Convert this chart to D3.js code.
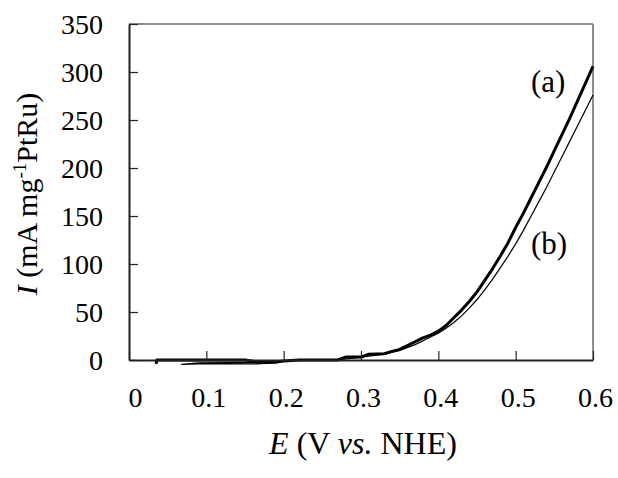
<!DOCTYPE html>
<html>
<head>
<meta charset="utf-8">
<script src="https://cdn.jsdelivr.net/npm/d3@7"></script>
<style>
  html, body { margin: 0; padding: 0; background: #fff; }
  svg, svg text, svg g { font-family: "Liberation Serif", "Times New Roman", serif !important; }
</style>
</head>
<body>
<svg id="chart" width="618" height="478"></svg>
<script>
// ---- data ----
const xTicks = [0, 0.1, 0.2, 0.3, 0.4, 0.5, 0.6];
const yTicks = [0, 50, 100, 150, 200, 250, 300, 350];

const seriesA_E = [0.035, 0.036, 0.10, 0.15, 0.165, 0.19, 0.20, 0.22, 0.27, 0.28, 0.30, 0.31, 0.33, 0.34, 0.35, 0.36, 0.37, 0.38, 0.39, 0.40, 0.41, 0.42, 0.43, 0.44, 0.45, 0.46, 0.47, 0.48, 0.49, 0.50, 0.51, 0.52, 0.53, 0.54, 0.55, 0.56, 0.57, 0.58, 0.59, 0.60];
const seriesA_I = [-4, 0, 0, 0, -2, -2, -1, 0, 0, 3, 3, 6, 6.5, 9, 11, 15, 19, 23, 26, 30, 36, 44, 52, 61, 71, 83, 95, 108, 122, 138, 153, 169, 185, 201, 218, 235, 252, 270, 288, 306];

const seriesB_E = [0.19, 0.165, 0.09, 0.068, 0.09, 0.165, 0.19, 0.20, 0.25, 0.27, 0.29, 0.31, 0.33, 0.35, 0.37, 0.39, 0.40, 0.41, 0.42, 0.43, 0.44, 0.45, 0.46, 0.47, 0.48, 0.49, 0.50, 0.51, 0.52, 0.53, 0.54, 0.55, 0.56, 0.57, 0.58, 0.59, 0.60];
const seriesB_I = [-2, -2.5, -3, -4.5, -4, -4, -3, -1, 0, 0, 2, 4, 6, 10, 16, 24, 28, 33, 39, 46, 54, 63, 73, 84, 96, 108, 121, 135, 150, 165, 180, 196, 212, 228, 244, 260, 276];

const seriesLabels = ["(a)", "(b)"];

// ---- layout ----
const FONT = '"Liberation Serif", "Times New Roman", serif';
const svg = d3.select("#chart").style("font-family", FONT);
const mLeft = 129, mRight = 593, mTop = 24, mBottom = 360;
const x = d3.scaleLinear().domain([0, 0.6]).range([mLeft, mRight]);
const y = d3.scaleLinear().domain([0, 350]).range([mBottom, mTop]);
const FS_TICK = 28, FS_TITLE = 32, FS_YTITLE = 30, FS_LABEL = 31;

// frame: top & right gray
svg.append("line").attr("x1", mLeft).attr("x2", mRight).attr("y1", mTop).attr("y2", mTop)
  .attr("stroke", "#8c8c8c").attr("stroke-width", 2);
svg.append("line").attr("x1", mRight).attr("x2", mRight).attr("y1", mTop).attr("y2", mBottom)
  .attr("stroke", "#8c8c8c").attr("stroke-width", 2);

// curves
const line = d3.line().x(d => x(d[0])).y(d => y(d[1]));
const dataA = seriesA_E.map((e, i) => [e, seriesA_I[i]]);
const dataB = seriesB_E.map((e, i) => [e, seriesB_I[i]]);

svg.append("path").datum(dataB).attr("d", line).attr("fill", "none")
  .attr("stroke", "#000").attr("stroke-width", 1.2).attr("stroke-linejoin", "round");
svg.append("path").datum(dataA).attr("d", line).attr("fill", "none")
  .attr("stroke", "#000").attr("stroke-width", 3).attr("stroke-linejoin", "round");

// axes
const xAxis = d3.axisBottom(x).tickValues(xTicks).tickSizeInner(-9).tickSizeOuter(0)
  .tickFormat(d => d === 0 ? "0" : d3.format(".1f")(d)).tickPadding(0);
const gx = svg.append("g").attr("transform", `translate(0,${mBottom})`).call(xAxis)
  .attr("font-family", FONT).attr("font-size", FS_TICK);
gx.select(".domain").attr("stroke", "#222").attr("stroke-width", 2);
gx.selectAll(".tick line").attr("stroke", "#222").attr("stroke-width", 1.2);
gx.selectAll(".tick text").style("font-family", FONT).style("font-size", FS_TICK + "px").attr("fill", "#000")
  .attr("y", 47).attr("dy", null).attr("dx", d => d === 0 ? 6 : 2);

const yAxis = d3.axisLeft(y).tickValues(yTicks).tickSizeInner(-9).tickSizeOuter(0).tickPadding(0);
const gy = svg.append("g").attr("transform", `translate(${mLeft},0)`).call(yAxis)
  .attr("font-family", FONT).attr("font-size", FS_TICK);
gy.select(".domain").attr("stroke", "#222").attr("stroke-width", 2);
gy.selectAll(".tick line").attr("stroke", "#222").attr("stroke-width", 1.2);
gy.selectAll(".tick text").style("font-family", FONT).style("font-size", FS_TICK + "px").attr("fill", "#000")
  .attr("x", -26).attr("dy", "0.34em");

// axis titles
const xt = svg.append("text").attr("x", 363).attr("y", 454)
  .attr("text-anchor", "middle").style("font-family", FONT).style("font-size", FS_TITLE + "px");
xt.append("tspan").attr("font-style", "italic").text("E");
xt.append("tspan").text(" (V ");
xt.append("tspan").attr("font-style", "italic").text("vs.");
xt.append("tspan").text(" NHE)");

const yt = svg.append("text").attr("transform", `translate(37,194) rotate(-90)`)
  .attr("text-anchor", "middle").style("font-family", FONT).style("font-size", FS_YTITLE + "px");
yt.append("tspan").attr("font-style", "italic").text("I");
yt.append("tspan").text(" (mA mg");
yt.append("tspan").style("font-size", "19px").attr("dy", -11).text("-1");
yt.append("tspan").attr("dy", 11).text("PtRu)");

// series labels
svg.append("text").attr("x", 531).attr("y", 92).style("font-family", FONT).style("font-size", FS_LABEL + "px").text(seriesLabels[0]);
svg.append("text").attr("x", 531).attr("y", 254).style("font-family", FONT).style("font-size", FS_LABEL + "px").text(seriesLabels[1]);
</script>
</body>
</html>
